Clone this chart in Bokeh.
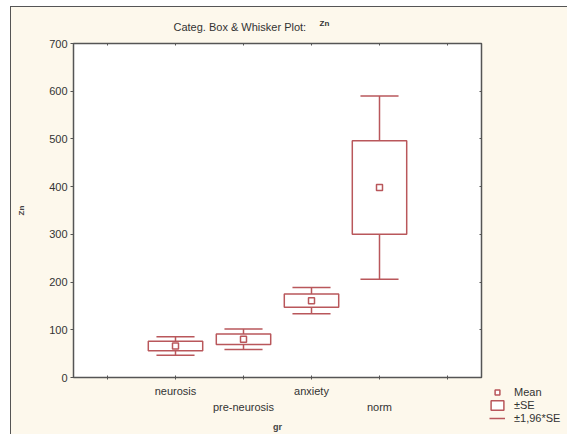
from bokeh.plotting import figure
from bokeh.models import (Range1d, FixedTicker, LinearAxis, Legend, LegendItem, Label, Spacer)
from bokeh.layouts import row, column
from bokeh.embed import file_html
from bokeh.resources import INLINE

# ---- data ----
categories = ["neurosis", "pre-neurosis", "anxiety", "norm"]
cat_pos = [1, 2, 3, 4]
means = [66, 80, 161, 398]
se = [10, 11, 14, 98]
y_ticks = [0, 100, 200, 300, 400, 500, 600, 700]
x_ticks = [0, 1, 2, 3, 4, 5]

RED = "#b9575b"
BG = "#fdf8ec"
FONT = "Liberation Sans"
TXT = "#333333"
AX = "#555555"

box_lo = [m - s for m, s in zip(means, se)]
box_hi = [m + s for m, s in zip(means, se)]
wh_lo = [m - 1.96 * s for m, s in zip(means, se)]
wh_hi = [m + 1.96 * s for m, s in zip(means, se)]


def blank_fig(w, h):
    f = figure(width=w, height=h, output_backend="svg", toolbar_location=None,
               x_axis_type=None, y_axis_type=None, title=None,
               x_range=Range1d(0, 1), y_range=Range1d(0, 1),
               min_border=0, min_border_left=0, min_border_right=0,
               min_border_top=0, min_border_bottom=0,
               background_fill_color=BG, border_fill_color=BG)
    f.outline_line_color = None
    f.grid.visible = False
    return f


# ---- header with the title ----
hd = blank_fig(556, 30)
hd.add_layout(Label(x=162, y=11, x_units="screen", y_units="screen",
                    text="Categ. Box & Whisker Plot:", text_font=FONT, text_font_size="11px",
                    text_color=TXT, text_baseline="middle", text_align="left"))
hd.add_layout(Label(x=308, y=14, x_units="screen", y_units="screen",
                    text="Zn", text_font=FONT, text_font_size="8px", text_font_style="bold",
                    text_color=TXT, text_baseline="middle", text_align="left"))

# ---- main plot ----
p = figure(width=474, height=397, output_backend="svg", toolbar_location=None,
           x_range=Range1d(-0.5, 5.5), y_range=Range1d(0, 700),
           x_axis_type=None, y_axis_type=None, title=None,
           min_border_left=62, min_border_right=4, min_border_top=6, min_border_bottom=56,
           background_fill_color="white", border_fill_color=BG)
p.outline_line_color = AX
p.outline_line_width = 1.5
p.xgrid.visible = False
p.ygrid.grid_line_color = "#e2e2e2"
p.ygrid.ticker = FixedTicker(ticks=y_ticks)

yax = LinearAxis(ticker=FixedTicker(ticks=y_ticks), axis_label="Zn",
                 axis_label_text_font=FONT, axis_label_text_font_size="8px",
                 axis_label_text_font_style="bold", axis_label_standoff=20,
                 major_label_text_font=FONT, major_label_text_font_size="11px",
                 major_label_text_color=TXT, major_label_standoff=3,
                 major_tick_out=3, major_tick_in=0, minor_tick_line_color=None,
                 axis_line_color=AX, major_tick_line_color=AX)
p.add_layout(yax, "left")

yr = LinearAxis(ticker=FixedTicker(ticks=y_ticks),
                major_label_overrides={t: "" for t in y_ticks}, major_label_standoff=0,
                major_tick_in=2, major_tick_out=0, minor_tick_line_color=None,
                axis_line_color=None, major_tick_line_color=AX)
p.add_layout(yr, "right")

ov1 = {0: "", 1: categories[0], 2: "", 3: categories[2], 4: "", 5: ""}
xb1 = LinearAxis(ticker=FixedTicker(ticks=x_ticks), major_label_overrides=ov1,
                 major_label_text_font=FONT, major_label_text_font_size="11px",
                 major_label_text_color=TXT, major_label_standoff=5,
                 major_tick_in=2, major_tick_out=2, minor_tick_line_color=None,
                 axis_line_color=AX, major_tick_line_color=AX)
p.add_layout(xb1, "below")
ov2 = {2: categories[1], 4: categories[3]}
xb2 = LinearAxis(ticker=FixedTicker(ticks=[2, 4]), major_label_overrides=ov2,
                 major_label_text_font=FONT, major_label_text_font_size="11px",
                 major_label_text_color=TXT, major_label_standoff=1,
                 major_tick_in=0, major_tick_out=0, minor_tick_line_color=None,
                 axis_line_color=None, major_tick_line_color=None,
                 axis_label="gr", axis_label_text_font=FONT, axis_label_text_font_size="9px",
                 axis_label_text_font_style="bold", axis_label_standoff=6)
p.add_layout(xb2, "below")

xa = LinearAxis(ticker=FixedTicker(ticks=x_ticks),
                major_label_overrides={t: "" for t in x_ticks}, major_label_standoff=0,
                major_tick_in=2, major_tick_out=0, minor_tick_line_color=None,
                axis_line_color=None, major_tick_line_color=AX)
p.add_layout(xa, "above")

p.segment(x0=cat_pos, y0=wh_lo, x1=cat_pos, y1=box_lo, line_color=RED, line_width=1.5)
p.segment(x0=cat_pos, y0=box_hi, x1=cat_pos, y1=wh_hi, line_color=RED, line_width=1.5)
p.segment(x0=[c - 0.28 for c in cat_pos], y0=wh_lo, x1=[c + 0.28 for c in cat_pos], y1=wh_lo,
          line_color=RED, line_width=1.5)
p.segment(x0=[c - 0.28 for c in cat_pos], y0=wh_hi, x1=[c + 0.28 for c in cat_pos], y1=wh_hi,
          line_color=RED, line_width=1.5)
p.quad(left=[c - 0.4 for c in cat_pos], right=[c + 0.4 for c in cat_pos],
       bottom=box_lo, top=box_hi, fill_color="white", line_color=RED, line_width=1.5)
p.scatter(x=cat_pos, y=means, marker="square", size=6, fill_color="white",
          line_color=RED, line_width=1.5)

# ---- legend in a small side figure (placeholder glyphs lie outside its view) ----
lg = blank_fig(82, 50)
r_mean = lg.scatter(x=[-5], y=[-5], marker="square", size=6, fill_color="white",
                    line_color=RED, line_width=1.5)
r_box = lg.quad(left=[-5], right=[-4], bottom=[-5], top=[-4], fill_color="white",
                line_color=RED, line_width=1.5)
r_wh = lg.segment(x0=[-5], y0=[-5], x1=[-4], y1=[-5], line_color=RED, line_width=1.5)
legend = Legend(items=[LegendItem(label="Mean", renderers=[r_mean]),
                       LegendItem(label="±SE", renderers=[r_box]),
                       LegendItem(label="±1,96*SE", renderers=[r_wh])],
                location=(4, 9), orientation="vertical",
                background_fill_alpha=0, border_line_color=None,
                label_text_font=FONT, label_text_font_size="11px", label_text_color=TXT,
                glyph_width=16, glyph_height=12, label_height=12, spacing=1,
                padding=0, margin=0, label_standoff=9)
lg.add_layout(legend, "center")

content = column(hd,
                 row(p, column(Spacer(width=82, height=346), lg, spacing=0), spacing=0),
                 spacing=0,
                 styles={"background-color": BG, "border-left": "1px solid #555555",
                         "border-top": "1px solid #555555"})
layout = column(Spacer(width=10, height=6),
                row(Spacer(width=10, height=10), content, spacing=0), spacing=0)

open("out.html", "w").write(file_html(layout, INLINE))
